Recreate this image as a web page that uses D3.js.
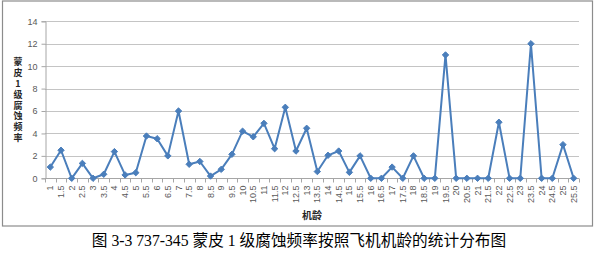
<!DOCTYPE html>
<html>
<head>
<meta charset="utf-8">
<script src="https://cdn.jsdelivr.net/npm/d3@7"></script>
<style>
  body { margin: 0; background: #fff; }
  svg { display: block; }
</style>
</head>
<body>
<div id="chart"></div>
<script>
// categories (aircraft age) and corrosion frequency values
var ages = ["1","1.5","2","2.5","3","3.5","4","4.5","5","5.5","6","6.5","7","7.5","8","8.5","9","9.5","10","10.5",
            "11","11.5","12","12.5","13","13.5","14","14.5","15","15.5","16","16.5","17","17.5","18","18.5","19","19.5","20","20.5",
            "21","21.5","22","22.5","23","23.5","24","24.5","25","25.5"];
var freq = [1.0, 2.5, 0, 1.33, 0, 0.36, 2.38, 0.3, 0.5, 3.77,
            3.53, 2.0, 6.0, 1.25, 1.5, 0.2, 0.8, 2.14, 4.2, 3.7,
            4.9, 2.64, 6.33, 2.43, 4.46, 0.6, 2.05, 2.43, 0.53, 2.0,
            0, 0, 1.0, 0, 2.0, 0, 0, 11, 0, 0,
            0, 0, 5, 0, 0, 12, 0, 0, 3, 0];
var yTicks = [0, 2, 4, 6, 8, 10, 12, 14];
var yTitle = "蒙皮1级腐蚀频率";
var xTitle = "机龄";
var caption = "图 3-3 737-345 蒙皮 1 级腐蚀频率按照飞机机龄的统计分布图";

var width = 599, height = 262;
var plot = { left: 45, right: 579, top: 21.3, bottom: 178.3 };

var svg = d3.select("#chart").append("svg")
  .attr("width", width)
  .attr("height", height);

// outer chart frame
svg.append("rect")
  .attr("x", 2.5).attr("y", 1)
  .attr("width", 590).attr("height", 225)
  .attr("fill", "#fff")
  .attr("stroke", "#8c8c8c")
  .attr("stroke-width", 1.2);

var x = d3.scaleBand().domain(ages).range([plot.left, plot.right]);
var y = d3.scaleLinear().domain([0, 14]).range([plot.bottom, plot.top]);

// gridlines
svg.append("g")
  .selectAll("line")
  .data(yTicks.filter(function(d) { return d > 0; }))
  .enter().append("line")
  .attr("x1", plot.left).attr("x2", plot.right)
  .attr("y1", function(d) { return Math.round(y(d)) + 0.5; })
  .attr("y2", function(d) { return Math.round(y(d)) + 0.5; })
  .attr("stroke", "#c4c4c4")
  .attr("stroke-width", 1);

// y axis
var yAxis = svg.append("g")
  .attr("transform", "translate(" + (plot.left + 0.5) + ",0)")
  .call(d3.axisLeft(y).tickValues(yTicks).tickSize(4).tickPadding(4));
yAxis.select(".domain").attr("stroke", "#a6a6a6");
yAxis.selectAll(".tick line").attr("stroke", "#a6a6a6");
yAxis.selectAll("text")
  .attr("fill", "#595959")
  .style("font-family", "'Liberation Sans', Arial, sans-serif")
  .style("font-size", "9px");

// x axis: ticks between categories, like the spreadsheet style
var xAxisG = svg.append("g")
  .attr("transform", "translate(0," + (Math.round(plot.bottom) + 0.5) + ")");
xAxisG.append("line")
  .attr("x1", plot.left).attr("x2", plot.right)
  .attr("stroke", "#a6a6a6");
var bounds = ages.map(function(d) { return x(d); }).concat([plot.right]);
xAxisG.selectAll(".tk")
  .data(bounds)
  .enter().append("line")
  .attr("class", "tk")
  .attr("x1", function(d) { return Math.round(d) + 0.5; })
  .attr("x2", function(d) { return Math.round(d) + 0.5; })
  .attr("y1", 0).attr("y2", 4)
  .attr("stroke", "#a6a6a6");
xAxisG.selectAll(".lbl")
  .data(ages)
  .enter().append("text")
  .attr("class", "lbl")
  .attr("transform", function(d) {
    return "translate(" + (x(d) + x.bandwidth() / 2 + 3) + ",7) rotate(-90)";
  })
  .attr("text-anchor", "end")
  .attr("fill", "#595959")
  .style("font-family", "'Liberation Sans', Arial, sans-serif")
  .style("font-size", "9px")
  .text(function(d) { return d; });

// the line
var line = d3.line()
  .x(function(d, i) { return x(ages[i]) + x.bandwidth() / 2; })
  .y(function(d) { return y(d); });

svg.append("path")
  .datum(freq)
  .attr("d", line)
  .attr("fill", "none")
  .attr("stroke", "#4a7ebb")
  .attr("stroke-width", 2)
  .attr("stroke-linejoin", "round");

// diamond markers
var diamond = d3.symbol().type(d3.symbolDiamond2).size(26);
svg.append("g")
  .selectAll("path")
  .data(freq)
  .enter().append("path")
  .attr("d", diamond)
  .attr("transform", function(d, i) {
    return "translate(" + (x(ages[i]) + x.bandwidth() / 2) + "," + y(d) + ")";
  })
  .attr("fill", "#4a7ebb")
  .attr("stroke", "#4a7ebb")
  .attr("stroke-width", 1);

// y title, stacked upright characters
svg.append("text")
  .attr("x", 18)
  .attr("y", 57)
  .attr("fill", "#262626")
  .style("writing-mode", "vertical-rl")
  .style("text-orientation", "upright")
  .style("letter-spacing", "1.9px")
  .style("font-family", "'Noto Sans CJK SC', sans-serif")
  .style("font-weight", "bold")
  .style("font-size", "9px")
  .text(yTitle);

// x title
svg.append("text")
  .attr("x", (plot.left + plot.right) / 2)
  .attr("y", 219)
  .attr("text-anchor", "middle")
  .attr("fill", "#262626")
  .style("font-family", "'Noto Sans CJK SC', sans-serif")
  .style("font-weight", "bold")
  .style("font-size", "10px")
  .text(xTitle);

// caption under the chart
svg.append("text")
  .attr("x", 299)
  .attr("y", 246)
  .attr("text-anchor", "middle")
  .attr("fill", "#000")
  .style("font-family", "'Liberation Serif', 'Noto Sans CJK SC', serif")
  .style("font-size", "15.7px")
  .text(caption);
</script>
</body>
</html>
